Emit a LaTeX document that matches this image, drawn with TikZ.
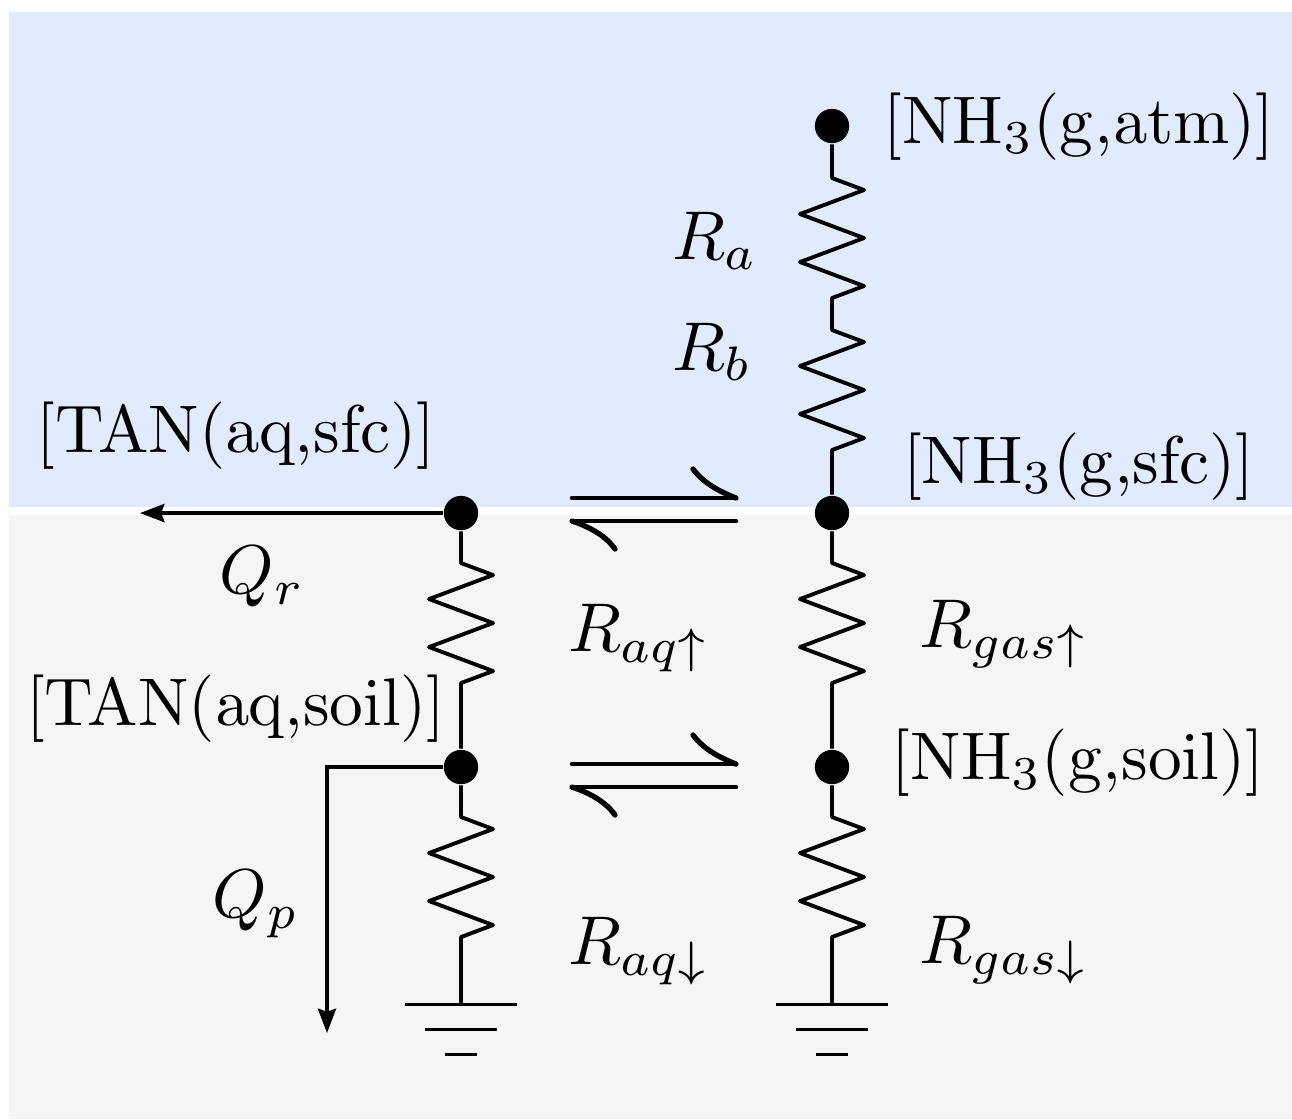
\documentclass[tikz,border=0pt]{standalone}
\usetikzlibrary{arrows.meta}
\definecolor{bgblue}{HTML}{E0EBFD}
\definecolor{bggray}{HTML}{F5F5F5}
\newcommand{\zz}{-- ++(32,12) -- ++(-64,24) -- ++(64,24) -- ++(-64,24) -- ++(64,24) -- ++(-32,12)}
\tikzset{
  dotnode/.style={circle,fill=black,inner sep=0pt,minimum size=5.5pt},
  wire/.style={line width=0.62pt,line join=round},
  flow/.style={line width=0.55pt,-{Stealth[length=3.9pt,width=2.9pt,inset=0.5pt]}},
  gnd/.style={line width=0.55pt},
  eq/.style={line width=0.72pt,line cap=round,line join=round},
  hook/.style={line width=0.85pt,line cap=round},
  lab/.style={inner sep=0pt,text=black,transform shape,scale=1.078},
  mlab/.style={inner sep=0pt,text=black,transform shape,scale=1.105}
}
\begin{document}
\begin{tikzpicture}[x=0.16pt,y=-0.16pt]
\useasboundingbox (0,0) rectangle (1292,1119);
\fill[bgblue] (9,12) rectangle (1292,507);
\fill[bggray] (9,515) rectangle (1292,1119);
% nodes
\node[dotnode] (atm) at (832,126) {};
\node[dotnode] (sfc) at (832,513) {};
\node[dotnode] (gsoil) at (832,767) {};
\node[dotnode] (tsfc) at (461,513) {};
\node[dotnode] (tsoil) at (461,767) {};
\coordinate (ra) at (832,178);
\coordinate (rb) at (832,330);
\coordinate (rg1) at (832,563);
\coordinate (rg2) at (832,817);
\coordinate (gr) at (832,1004.5);
\coordinate (ra1) at (461,563);
\coordinate (ra2) at (461,817);
\coordinate (gl) at (461,1004.5);
\coordinate (qrend) at (140,513);
\coordinate (qpbend) at (327,767);
\coordinate (qpend) at (327,1033);
% resistors
\draw[wire] (atm) -- (ra) \zz -- (rb) \zz -- (sfc);
\draw[wire] (sfc) -- (rg1) \zz -- (gsoil);
\draw[wire] (gsoil) -- (rg2) \zz -- (gr);
\draw[wire] (tsfc) -- (ra1) \zz -- (tsoil);
\draw[wire] (tsoil) -- (ra2) \zz -- (gl);
% grounds
\foreach \c in {gr,gl}{
  \draw[gnd] ([xshift=-9pt]\c) -- ([xshift=9pt]\c);
  \draw[gnd] ([xshift=-5.8pt,yshift=-4pt]\c) -- ([xshift=5.8pt,yshift=-4pt]\c);
  \draw[gnd] ([xshift=-2.6pt,yshift=-8pt]\c) -- ([xshift=2.6pt,yshift=-8pt]\c);
}
% flows
\draw[flow] (tsfc) -- (qrend);
\draw[flow] (tsoil) -- (qpbend) -- (qpend);
% equilibrium arrows
\foreach \d in {0,266}{
  \begin{scope}[yshift=-\d*0.16pt]
  \draw[eq] (572,498) -- (736,498);
  \draw[hook] (736,498) .. controls (716,490) and (703,482) .. (693,469);
  \draw[eq] (736,521) -- (572,521);
  \draw[hook] (572,521) .. controls (590,527) and (606,536) .. (615,549);
  \end{scope}
}
% labels
\node[lab] (l1) at (1079,127) {$[\mathrm{NH_3(g{,}atm)}]$};
\node[lab] (l2) at (1079,467) {$[\mathrm{NH_3(g{,}sfc)}]$};
\node[lab] (l3) at (1078,763) {$[\mathrm{NH_3(g{,}soil)}]$};
\node[lab] (l4) at (236,436) {$[\mathrm{TAN(aq{,}sfc)}]$};
\node[lab] (l5) at (236,709) {$[\mathrm{TAN(aq{,}soil)}]$};
\node[mlab] (l6) at (715,241) {$R_a$};
\node[mlab] (l7) at (712.5,352) {$R_b$};
\node[mlab] (l8) at (262,577) {$Q_r$};
\node[mlab] (l9) at (256,904) {$Q_p$};
\node[mlab] (l10) at (639,638) {$R_{aq\uparrow}$};
\node[mlab] (l11) at (1003.5,634) {$R_{gas\uparrow}$};
\node[mlab] (l12) at (639,951) {$R_{aq\downarrow}$};
\node[mlab] (l13) at (1003.5,950) {$R_{gas\downarrow}$};
\end{tikzpicture}
\end{document}
